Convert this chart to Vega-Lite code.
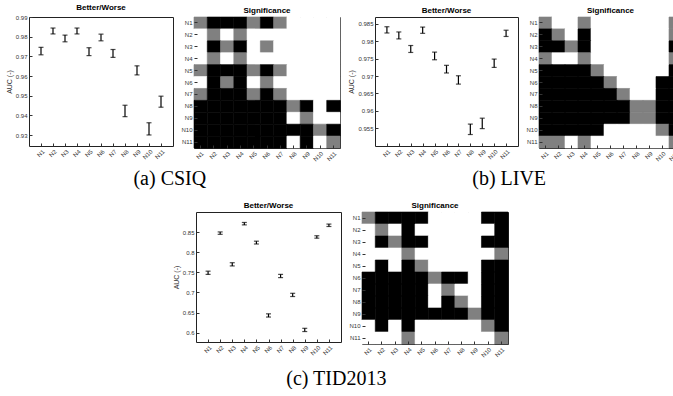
{
  "$schema": "https://vega.github.io/schema/vega-lite/v6.json",
  "background": "white",
  "padding": {"left": 4, "top": 3, "right": 0, "bottom": 0},
  "config": {
    "font": "Liberation Sans",
    "view": {"stroke": "#222222", "strokeWidth": 1},
    "axis": {"labelFontSize": 6, "labelColor": "#333333", "titleFontSize": 7, "titleFontWeight": "normal", "titleColor": "#333333", "tickColor": "#333333", "tickSize": -3, "labelPadding": 5, "domain": false, "grid": false, "titlePadding": 3},
    "title": {"fontSize": 8, "fontWeight": "bold", "offset": 2, "color": "#000000"},
    "concat": {"spacing": 6}
  },
  "datasets": {
    "csiq": [
      {"m": "N1", "lo": 0.9708, "hi": 0.9746},
      {"m": "N2", "lo": 0.9814, "hi": 0.9844},
      {"m": "N3", "lo": 0.9774, "hi": 0.9808},
      {"m": "N4", "lo": 0.9814, "hi": 0.9844},
      {"m": "N5", "lo": 0.9704, "hi": 0.9744},
      {"m": "N6", "lo": 0.9779, "hi": 0.9813},
      {"m": "N7", "lo": 0.9695, "hi": 0.9735},
      {"m": "N8", "lo": 0.9394, "hi": 0.9452},
      {"m": "N9", "lo": 0.9606, "hi": 0.9652},
      {"m": "N10", "lo": 0.9301, "hi": 0.9363},
      {"m": "N11", "lo": 0.9442, "hi": 0.9498}
    ],
    "live": [
      {"m": "N1", "lo": 0.9824, "hi": 0.9842},
      {"m": "N2", "lo": 0.9807, "hi": 0.9827},
      {"m": "N3", "lo": 0.9768, "hi": 0.9788},
      {"m": "N4", "lo": 0.9823, "hi": 0.9841},
      {"m": "N5", "lo": 0.9747, "hi": 0.9769},
      {"m": "N6", "lo": 0.9709, "hi": 0.9731},
      {"m": "N7", "lo": 0.9677, "hi": 0.9701},
      {"m": "N8", "lo": 0.9532, "hi": 0.9562},
      {"m": "N9", "lo": 0.9549, "hi": 0.9579},
      {"m": "N10", "lo": 0.9725, "hi": 0.9749},
      {"m": "N11", "lo": 0.9814, "hi": 0.9832}
    ],
    "tid": [
      {"m": "N1", "lo": 0.745, "hi": 0.753},
      {"m": "N2", "lo": 0.8445, "hi": 0.8505},
      {"m": "N3", "lo": 0.766, "hi": 0.774},
      {"m": "N4", "lo": 0.868, "hi": 0.874},
      {"m": "N5", "lo": 0.8205, "hi": 0.8275},
      {"m": "N6", "lo": 0.639, "hi": 0.647},
      {"m": "N7", "lo": 0.737, "hi": 0.745},
      {"m": "N8", "lo": 0.69, "hi": 0.698},
      {"m": "N9", "lo": 0.603, "hi": 0.611},
      {"m": "N10", "lo": 0.835, "hi": 0.841},
      {"m": "N11", "lo": 0.864, "hi": 0.870}
    ],
    "csiqSig": [
      {"r": "N1", "N1": 1, "N2": 2, "N3": 2, "N4": 2, "N5": 1, "N6": 2, "N7": 1, "N8": 0, "N9": 0, "N10": 0, "N11": 0},
      {"r": "N2", "N1": 0, "N2": 1, "N3": 0, "N4": 1, "N5": 0, "N6": 0, "N7": 0, "N8": 0, "N9": 0, "N10": 0, "N11": 0},
      {"r": "N3", "N1": 0, "N2": 2, "N3": 1, "N4": 2, "N5": 0, "N6": 1, "N7": 0, "N8": 0, "N9": 0, "N10": 0, "N11": 0},
      {"r": "N4", "N1": 0, "N2": 1, "N3": 0, "N4": 1, "N5": 0, "N6": 0, "N7": 0, "N8": 0, "N9": 0, "N10": 0, "N11": 0},
      {"r": "N5", "N1": 1, "N2": 2, "N3": 2, "N4": 2, "N5": 1, "N6": 2, "N7": 1, "N8": 0, "N9": 0, "N10": 0, "N11": 0},
      {"r": "N6", "N1": 0, "N2": 2, "N3": 1, "N4": 2, "N5": 0, "N6": 1, "N7": 0, "N8": 0, "N9": 0, "N10": 0, "N11": 0},
      {"r": "N7", "N1": 1, "N2": 2, "N3": 2, "N4": 2, "N5": 1, "N6": 2, "N7": 1, "N8": 0, "N9": 0, "N10": 0, "N11": 0},
      {"r": "N8", "N1": 2, "N2": 2, "N3": 2, "N4": 2, "N5": 2, "N6": 2, "N7": 2, "N8": 1, "N9": 2, "N10": 0, "N11": 2},
      {"r": "N9", "N1": 2, "N2": 2, "N3": 2, "N4": 2, "N5": 2, "N6": 2, "N7": 2, "N8": 0, "N9": 1, "N10": 0, "N11": 0},
      {"r": "N10", "N1": 2, "N2": 2, "N3": 2, "N4": 2, "N5": 2, "N6": 2, "N7": 2, "N8": 2, "N9": 2, "N10": 1, "N11": 2},
      {"r": "N11", "N1": 2, "N2": 2, "N3": 2, "N4": 2, "N5": 2, "N6": 2, "N7": 2, "N8": 0, "N9": 2, "N10": 0, "N11": 1}
    ],
    "liveSig": [
      {"r": "N1", "N1": 1, "N2": 0, "N3": 0, "N4": 1, "N5": 0, "N6": 0, "N7": 0, "N8": 0, "N9": 0, "N10": 0, "N11": 1},
      {"r": "N2", "N1": 2, "N2": 1, "N3": 0, "N4": 2, "N5": 0, "N6": 0, "N7": 0, "N8": 0, "N9": 0, "N10": 0, "N11": 1},
      {"r": "N3", "N1": 2, "N2": 2, "N3": 1, "N4": 2, "N5": 0, "N6": 0, "N7": 0, "N8": 0, "N9": 0, "N10": 0, "N11": 2},
      {"r": "N4", "N1": 1, "N2": 0, "N3": 0, "N4": 1, "N5": 0, "N6": 0, "N7": 0, "N8": 0, "N9": 0, "N10": 0, "N11": 1},
      {"r": "N5", "N1": 2, "N2": 2, "N3": 2, "N4": 2, "N5": 1, "N6": 0, "N7": 0, "N8": 0, "N9": 0, "N10": 0, "N11": 2},
      {"r": "N6", "N1": 2, "N2": 2, "N3": 2, "N4": 2, "N5": 2, "N6": 1, "N7": 0, "N8": 0, "N9": 0, "N10": 2, "N11": 2},
      {"r": "N7", "N1": 2, "N2": 2, "N3": 2, "N4": 2, "N5": 2, "N6": 2, "N7": 1, "N8": 0, "N9": 0, "N10": 2, "N11": 2},
      {"r": "N8", "N1": 2, "N2": 2, "N3": 2, "N4": 2, "N5": 2, "N6": 2, "N7": 2, "N8": 1, "N9": 1, "N10": 2, "N11": 2},
      {"r": "N9", "N1": 2, "N2": 2, "N3": 2, "N4": 2, "N5": 2, "N6": 2, "N7": 2, "N8": 1, "N9": 1, "N10": 2, "N11": 2},
      {"r": "N10", "N1": 2, "N2": 2, "N3": 2, "N4": 2, "N5": 2, "N6": 0, "N7": 0, "N8": 0, "N9": 0, "N10": 1, "N11": 2},
      {"r": "N11", "N1": 1, "N2": 1, "N3": 0, "N4": 1, "N5": 0, "N6": 0, "N7": 0, "N8": 0, "N9": 0, "N10": 0, "N11": 1}
    ],
    "tidSig": [
      {"r": "N1", "N1": 1, "N2": 2, "N3": 2, "N4": 2, "N5": 2, "N6": 0, "N7": 0, "N8": 0, "N9": 0, "N10": 2, "N11": 2},
      {"r": "N2", "N1": 0, "N2": 1, "N3": 0, "N4": 2, "N5": 0, "N6": 0, "N7": 0, "N8": 0, "N9": 0, "N10": 0, "N11": 2},
      {"r": "N3", "N1": 0, "N2": 2, "N3": 1, "N4": 2, "N5": 2, "N6": 0, "N7": 0, "N8": 0, "N9": 0, "N10": 2, "N11": 2},
      {"r": "N4", "N1": 0, "N2": 0, "N3": 0, "N4": 1, "N5": 0, "N6": 0, "N7": 0, "N8": 0, "N9": 0, "N10": 0, "N11": 1},
      {"r": "N5", "N1": 0, "N2": 2, "N3": 0, "N4": 2, "N5": 1, "N6": 0, "N7": 0, "N8": 0, "N9": 0, "N10": 2, "N11": 2},
      {"r": "N6", "N1": 2, "N2": 2, "N3": 2, "N4": 2, "N5": 2, "N6": 1, "N7": 2, "N8": 2, "N9": 0, "N10": 2, "N11": 2},
      {"r": "N7", "N1": 2, "N2": 2, "N3": 2, "N4": 2, "N5": 2, "N6": 0, "N7": 1, "N8": 0, "N9": 0, "N10": 2, "N11": 2},
      {"r": "N8", "N1": 2, "N2": 2, "N3": 2, "N4": 2, "N5": 2, "N6": 0, "N7": 2, "N8": 1, "N9": 0, "N10": 2, "N11": 2},
      {"r": "N9", "N1": 2, "N2": 2, "N3": 2, "N4": 2, "N5": 2, "N6": 2, "N7": 2, "N8": 2, "N9": 1, "N10": 2, "N11": 2},
      {"r": "N10", "N1": 0, "N2": 2, "N3": 0, "N4": 2, "N5": 0, "N6": 0, "N7": 0, "N8": 0, "N9": 0, "N10": 1, "N11": 2},
      {"r": "N11", "N1": 0, "N2": 0, "N3": 0, "N4": 1, "N5": 0, "N6": 0, "N7": 0, "N8": 0, "N9": 0, "N10": 0, "N11": 1}
    ]
  },
  "vconcat": [
    {
      "hconcat": [
        {
          "title": {"text": "(a) CSIQ", "orient": "bottom", "anchor": "middle", "dx": -3, "font": "Liberation Serif", "fontSize": 20, "fontWeight": "normal", "offset": 6},
          "hconcat": [
            {
              "width": 144, "height": 129, "title": "Better/Worse",
              "data": {"name": "csiq"},
              "mark": {"type": "errorbar", "color": "black", "ticks": {"size": 5, "color": "black", "thickness": 1.2}, "thickness": 1.2},
              "encoding": {
                "x": {"field": "m", "type": "ordinal", "scale": {"type": "point", "padding": 1, "domain": ["N1","N2","N3","N4","N5","N6","N7","N8","N9","N10","N11"]}, "axis": {"title": null, "labelAngle": -45}},
                "y": {"field": "lo", "type": "quantitative", "scale": {"domain": [0.9245, 0.99], "nice": false, "zero": false}, "axis": {"title": "AUC (-)", "values": [0.93,0.94,0.95,0.96,0.97,0.98,0.99], "format": "~f"}},
                "y2": {"field": "hi"}
              }
            },
            {
              "width": 146, "height": 131, "title": "Significance",
              "data": {"name": "csiqSig"},
              "transform": [{"fold": ["N1","N2","N3","N4","N5","N6","N7","N8","N9","N10","N11"], "as": ["c", "v"]}],
              "mark": {"type": "rect", "strokeWidth": 0.6},
              "encoding": {
                "x": {"field": "c", "type": "nominal", "scale": {"domain": ["N1","N2","N3","N4","N5","N6","N7","N8","N9","N10","N11"]}, "axis": {"title": null, "labelAngle": -45}},
                "y": {"field": "r", "type": "nominal", "scale": {"domain": ["N1","N2","N3","N4","N5","N6","N7","N8","N9","N10","N11"]}, "axis": {"title": null}},
                "color": {"field": "v", "type": "ordinal", "scale": {"domain": [0,1,2], "range": ["#ffffff","#808080","#000000"]}, "legend": null},
                "stroke": {"field": "v", "type": "ordinal", "scale": {"domain": [0,1,2], "range": ["#ffffff","#808080","#000000"]}, "legend": null}
              }
            }
          ]
        },
        {
          "title": {"text": "(b) LIVE", "orient": "bottom", "anchor": "middle", "dx": -6, "font": "Liberation Serif", "fontSize": 20, "fontWeight": "normal", "offset": 6},
          "hconcat": [
            {
              "width": 143, "height": 129, "title": "Better/Worse",
              "data": {"name": "live"},
              "mark": {"type": "errorbar", "color": "black", "ticks": {"size": 5, "color": "black", "thickness": 1.2}, "thickness": 1.2},
              "encoding": {
                "x": {"field": "m", "type": "ordinal", "scale": {"type": "point", "padding": 1, "domain": ["N1","N2","N3","N4","N5","N6","N7","N8","N9","N10","N11"]}, "axis": {"title": null, "labelAngle": -45}},
                "y": {"field": "lo", "type": "quantitative", "scale": {"domain": [0.9499, 0.987], "nice": false, "zero": false}, "axis": {"title": "AUC (-)", "values": [0.955,0.96,0.965,0.97,0.975,0.98,0.985], "format": "~f"}},
                "y2": {"field": "hi"}
              }
            },
            {
              "width": 143, "height": 131, "title": "Significance",
              "data": {"name": "liveSig"},
              "transform": [{"fold": ["N1","N2","N3","N4","N5","N6","N7","N8","N9","N10","N11"], "as": ["c", "v"]}],
              "mark": {"type": "rect", "strokeWidth": 0.6},
              "encoding": {
                "x": {"field": "c", "type": "nominal", "scale": {"domain": ["N1","N2","N3","N4","N5","N6","N7","N8","N9","N10","N11"]}, "axis": {"title": null, "labelAngle": -45}},
                "y": {"field": "r", "type": "nominal", "scale": {"domain": ["N1","N2","N3","N4","N5","N6","N7","N8","N9","N10","N11"]}, "axis": {"title": null}},
                "color": {"field": "v", "type": "ordinal", "scale": {"domain": [0,1,2], "range": ["#ffffff","#808080","#000000"]}, "legend": null},
                "stroke": {"field": "v", "type": "ordinal", "scale": {"domain": [0,1,2], "range": ["#ffffff","#808080","#000000"]}, "legend": null}
              }
            }
          ]
        }
      ]
    },
    {
      "spacing": 0,
      "hconcat": [
        {
          "width": 142, "height": 10,
          "view": {"stroke": null},
          "data": {"values": [{"s": 0}]},
          "mark": {"type": "point", "opacity": 0},
          "encoding": {}
        },
        {
          "title": {"text": "(c) TID2013", "orient": "bottom", "anchor": "middle", "dx": -4, "font": "Liberation Serif", "fontSize": 20, "fontWeight": "normal", "offset": 10},
          "hconcat": [
            {
              "width": 145, "height": 130, "title": "Better/Worse",
              "data": {"name": "tid"},
              "mark": {"type": "errorbar", "color": "black", "ticks": {"size": 5, "color": "black", "thickness": 1.2}, "thickness": 1.2},
              "encoding": {
                "x": {"field": "m", "type": "ordinal", "scale": {"type": "point", "padding": 1, "domain": ["N1","N2","N3","N4","N5","N6","N7","N8","N9","N10","N11"]}, "axis": {"title": null, "labelAngle": -45}},
                "y": {"field": "lo", "type": "quantitative", "scale": {"domain": [0.577, 0.9], "nice": false, "zero": false}, "axis": {"title": "AUC (-)", "values": [0.6,0.65,0.7,0.75,0.8,0.85], "format": "~f"}},
                "y2": {"field": "hi"}
              }
            },
            {
              "width": 146, "height": 132, "title": "Significance",
              "data": {"name": "tidSig"},
              "transform": [{"fold": ["N1","N2","N3","N4","N5","N6","N7","N8","N9","N10","N11"], "as": ["c", "v"]}],
              "mark": {"type": "rect", "strokeWidth": 0.6},
              "encoding": {
                "x": {"field": "c", "type": "nominal", "scale": {"domain": ["N1","N2","N3","N4","N5","N6","N7","N8","N9","N10","N11"]}, "axis": {"title": null, "labelAngle": -45}},
                "y": {"field": "r", "type": "nominal", "scale": {"domain": ["N1","N2","N3","N4","N5","N6","N7","N8","N9","N10","N11"]}, "axis": {"title": null}},
                "color": {"field": "v", "type": "ordinal", "scale": {"domain": [0,1,2], "range": ["#ffffff","#808080","#000000"]}, "legend": null},
                "stroke": {"field": "v", "type": "ordinal", "scale": {"domain": [0,1,2], "range": ["#ffffff","#808080","#000000"]}, "legend": null}
              }
            }
          ]
        }
      ]
    }
  ],
  "spacing": 12
}
